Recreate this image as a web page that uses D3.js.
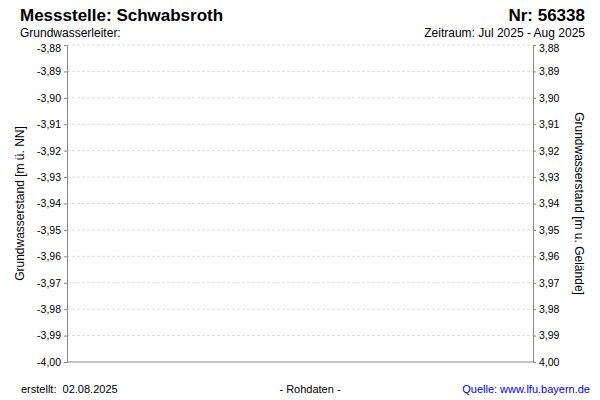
<!DOCTYPE html><html><head><meta charset="utf-8"><script src="https://cdn.jsdelivr.net/npm/d3@7"></script>
<style>body{margin:0}text{font-family:"Liberation Sans",Arial,sans-serif}</style></head><body><svg id="c" width="600" height="400"></svg><script>
const leftTicks=[-3.88,-3.89,-3.90,-3.91,-3.92,-3.93,-3.94,-3.95,-3.96,-3.97,-3.98,-3.99,-4.00];
const rightTicks=[3.88,3.89,3.90,3.91,3.92,3.93,3.94,3.95,3.96,3.97,3.98,3.99,4.00];
const svg=d3.select("#c");
const L=67,R=533,T=45,B=362;
const yl=d3.scaleLinear().domain([-4.00,-3.88]).range([B,T]);
const yr=d3.scaleLinear().domain([3.88,4.00]).range([T,B]);
const fmt=d=>d.toFixed(2).replace(".",",");
svg.append("g").selectAll("line").data(leftTicks.slice(0,-1)).join("line")
 .attr("x1",L).attr("x2",R).attr("y1",d=>yl(d)).attr("y2",d=>yl(d))
 .attr("stroke","#ddd").attr("stroke-dasharray","3,2");
const ga=svg.append("g").attr("transform",`translate(${L},0)`).call(d3.axisLeft(yl).tickValues(leftTicks).tickFormat(fmt).tickSize(3).tickPadding(3));
const gb=svg.append("g").attr("transform",`translate(${R},0)`).call(d3.axisRight(yr).tickValues(rightTicks).tickFormat(fmt).tickSize(3).tickPadding(3));
[ga,gb].forEach(g=>{g.selectAll("path,line").attr("stroke","#888");g.selectAll("text").attr("font-size",10.5).attr("fill","#000").attr("font-family","Liberation Sans, Arial");});
ga.selectAll(".tick").filter(d=>d===-3.88).select("text").attr("dy","0.6em");
gb.selectAll(".tick").filter(d=>d===3.88).select("text").attr("dy","0.6em");
svg.append("line").attr("x1",L).attr("x2",R).attr("y1",B).attr("y2",B).attr("stroke","#888");
const t=(x,y,s,sz,a,c,w)=>svg.append("text").attr("x",x).attr("y",y).attr("xml:space","preserve").text(s).attr("font-size",sz).attr("text-anchor",a||"start").attr("fill",c||"#000").attr("font-weight",w||"normal");
t(20,21,"Messstelle: Schwabsroth",17,"start","#000","bold");
t(585,21,"Nr: 56338",17,"end","#000","bold");
t(20,37,"Grundwasserleiter:",12);
t(585,37,"Zeitraum: Jul 2025 - Aug 2025",12,"end");
t(21,393,"erstellt:  02.08.2025",11);
t(310,393,"- Rohdaten -",11,"middle");
t(590,393,"Quelle: www.lfu.bayern.de",11,"end","#0000ff");
svg.append("text").attr("transform",`translate(24,${(T+B)/2}) rotate(-90)`).attr("text-anchor","middle").attr("font-size",12).text("Grundwasserstand [m ü. NN]");
svg.append("text").attr("transform",`translate(575,${(T+B)/2}) rotate(90)`).attr("text-anchor","middle").attr("font-size",12).text("Grundwasserstand [m u. Gelände]");
</script></body></html>
